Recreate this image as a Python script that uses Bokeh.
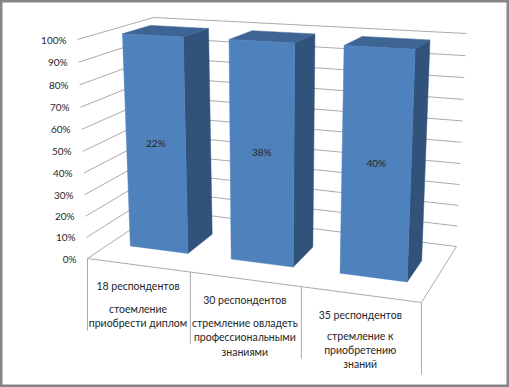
from bokeh.plotting import figure
from bokeh.models import Range1d, ColumnDataSource
from bokeh.core.properties import value
from bokeh.embed import file_html
from bokeh.resources import INLINE

# ---- data ----
categories = ["18 респондентов", "30 респондентов", "35 респондентов"]
category_details = [
    ["стоемление", "приобрести диплом"],
    ["стремление овладеть", "профессиональными", "знаниями"],
    ["стремление к", "приобретению", "знаний"],
]
shares = [22, 38, 40]
ticks = [0, 10, 20, 30, 40, 50, 60, 70, 80, 90, 100]
tick_labels = ["0%", "10%", "20%", "30%", "40%", "50%", "60%", "70%", "80%", "90%", "100%"]

# ---- oblique projection of the 3-D box: (u across, v up, w into the page) ----
FL0, FR0, BL0, BR0 = (87, 258), (421, 302), (160, 209), (456, 246)
FL1, FR1, BL1, BR1 = (77, 39), (430, 58), (153, 17), (466, 33)
PERSPECTIVE_U, PERSPECTIVE_V = 0.123, 0.045
BAR_FILL = 0.58       # share of a category that a bar takes
W_FRONT, W_BACK = 0.31, 0.69
LABEL_HEIGHT = 0.51   # data labels sit about mid-way up the front face
FRONT, SIDE, TOP = "#4F81BD", "#31527B", "#3E6494"
GRID, TEXT, FRAME = "#ABABAB", "#262626", "#868686"
FONT = "Lato"
TICK_SIZE = "10px"
CATEGORY_SIZE = "10.5px"


def lerp(a, b, t):
    return (a[0] + (b[0] - a[0]) * t, a[1] + (b[1] - a[1]) * t)


def project(u, v, w):
    gu = u / (1 + PERSPECTIVE_U * (1 - u))
    gv = v / (1 + PERSPECTIVE_V * (1 - v))
    bottom = lerp(lerp(FL0, FR0, gu), lerp(BL0, BR0, gu), w)
    top = lerp(lerp(FL1, FR1, gu), lerp(BL1, BR1, gu), w)
    return lerp(bottom, top, gv)


def line(points):
    return [q[0] for q in points], [q[1] for q in points]


p = figure(width=509, height=387, output_backend="svg", toolbar_location=None,
           x_range=Range1d(0, 509), y_range=Range1d(387, 0),
           min_border=0, outline_line_color=FRAME, outline_line_width=4,
           background_fill_color="white", border_fill_color="white")
p.axis.visible = False
p.grid.visible = False

# walls: one polyline per tick, front-left -> back-left -> back-right
xs, ys = [], []
for t in ticks:
    v = t / 100
    a, b = line([project(0, v, 0), project(0, v, 1), project(1, v, 1)])
    xs.append(a)
    ys.append(b)
p.multi_line(xs, ys, line_color=GRID, line_width=1)

# floor edges and the category dividers below the front edge
DROP = 72
xs, ys = [], []
a, b = line([project(0, 0, 0), project(1, 0, 0), project(1, 0, 1)])
xs.append(a)
ys.append(b)
for i in range(len(categories) + 1):
    q = project(i / len(categories), 0, 0)
    xs.append([q[0], q[0]])
    ys.append([q[1], q[1] + DROP])
p.multi_line(xs, ys, line_color=GRID, line_width=1)

# bars: a single 100 % stacked series, so each one reaches the top of the box
total_height = [s / s for s in shares]
n = len(categories)
for i, h in enumerate(total_height):
    def uu(f):
        return (i + 0.5 + (f - 0.5) * BAR_FILL) / n

    u0, u1 = uu(0), uu(1)
    front = [project(u0, 0, W_FRONT), project(u1, 0, W_FRONT), project(u1, h, W_FRONT), project(u0, h, W_FRONT)]
    side = [project(u1, 0, W_FRONT), project(u1, 0, W_BACK), project(u1, h, W_BACK), project(u1, h, W_FRONT)]
    top = [project(u0, h, W_FRONT), project(u1, h, W_FRONT), project(u1, h, W_BACK), project(u0, h, W_BACK)]
    for face, colour in ((side, SIDE), (top, TOP), (front, FRONT)):
        a, b = line(face)
        p.patch(a, b, fill_color=colour, line_color=colour, line_width=0.5)

# data labels on each front face
lx, ly = [], []
for i in range(n):
    q = project((i + 0.5) / n, LABEL_HEIGHT, W_FRONT)
    lx.append(q[0])
    ly.append(q[1])
p.text(lx, ly, text=[f"{s}%" for s in shares], text_font=value(FONT), text_font_size=value(TICK_SIZE),
       text_color=TEXT, text_align="center", text_baseline="middle")

# value axis labels
lx, ly = line([project(0, t / 100, 0) for t in ticks])
p.text(lx, ly, text=tick_labels, x_offset=-11, text_font=value(FONT), text_font_size=value(TICK_SIZE),
       text_color=TEXT, text_align="right", text_baseline="middle")

# category labels, two blocks each, below the front edge
FIRST_LINE = 20.5
DETAIL_GAPS = [23, 23.5, 21]
LINE_PITCH = 14.2
lx, ly, lt, off = [], [], [], []
for i, (head, details) in enumerate(zip(categories, category_details)):
    q = project((i + 0.5) / n, 0, 0)
    lx.append(q[0]); ly.append(q[1]); lt.append(head); off.append(FIRST_LINE)
    for k, d in enumerate(details):
        lx.append(q[0]); ly.append(q[1]); lt.append(d)
        off.append(FIRST_LINE + DETAIL_GAPS[i] + k * LINE_PITCH)
src = ColumnDataSource(dict(x=lx, y=ly, t=lt, o=off))
p.text("x", "y", text="t", y_offset="o", source=src, text_font=value(FONT), text_font_size=value(CATEGORY_SIZE),
       text_color=TEXT, text_align="center", text_baseline="middle")

open("out.html", "w").write(file_html(p, INLINE))
